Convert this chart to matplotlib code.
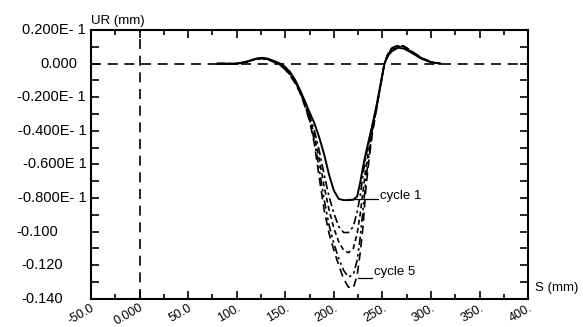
import numpy as np
import matplotlib
matplotlib.use("Agg")
import matplotlib.pyplot as plt
from matplotlib.ticker import MultipleLocator
from matplotlib.transforms import blended_transform_factory

plt.rcParams['font.family'] = ['Liberation Sans', 'DejaVu Sans']

#%% data
S = [80, 100, 110, 120, 126, 132, 140, 145, 150, 155, 160, 165, 170, 175,
     180, 185, 190, 195, 200, 205, 210, 215, 220, 224, 227, 230, 233, 236,
     240, 244, 248, 252, 256, 260, 266, 272, 280, 290, 300, 310]

ur_cycle1 = [0, 0, 0.0012, 0.003, 0.0035, 0.003, 0.0012, 0.0, -0.002, -0.005,
             -0.0095, -0.0155, -0.022, -0.029, -0.0355, -0.044, -0.054, -0.066,
             -0.0755, -0.0805, -0.0812, -0.0812, -0.081, -0.079, -0.071, -0.0615,
             -0.053, -0.0455, -0.0355, -0.0245, -0.0125, 0.0, 0.005, 0.0075,
             0.0095, 0.009, 0.0065, 0.003, 0.0008, 0]
ur_cycle2 = [0, 0, 0.0011, 0.0029, 0.0033, 0.0028, 0.001, -0.0004, -0.0025, -0.0058,
             -0.0102, -0.016, -0.023, -0.031, -0.040, -0.052, -0.066, -0.079,
             -0.089, -0.097, -0.1005, -0.1005, -0.097, -0.088, -0.079, -0.066,
             -0.055, -0.047, -0.036, -0.0255, -0.0128, 0.0, 0.0058, 0.0085,
             0.0102, 0.0098, 0.007, 0.0033, 0.0009, 0]
ur_cycle3 = [0, 0, 0.0011, 0.0028, 0.0032, 0.0027, 0.0008, -0.0007, -0.003, -0.0063,
             -0.0107, -0.0165, -0.024, -0.032, -0.043, -0.057, -0.073, -0.087,
             -0.098, -0.106, -0.111, -0.1125, -0.110, -0.101, -0.090, -0.076,
             -0.062, -0.051, -0.038, -0.026, -0.013, 0.0, 0.006, 0.009,
             0.0105, 0.010, 0.0072, 0.0034, 0.001, 0]
ur_cycle4 = [0, 0, 0.001, 0.0027, 0.0031, 0.0026, 0.0006, -0.001, -0.0033, -0.0067,
             -0.0112, -0.017, -0.0245, -0.033, -0.046, -0.063, -0.081, -0.096,
             -0.107, -0.116, -0.123, -0.127, -0.1255, -0.117, -0.104, -0.087,
             -0.069, -0.055, -0.039, -0.0265, -0.013, 0.0, 0.0063, 0.0093,
             0.0108, 0.0103, 0.0074, 0.0035, 0.001, 0]
ur_cycle5 = [0, 0, 0.001, 0.0027, 0.003, 0.0025, 0.0005, -0.0012, -0.0035, -0.007,
             -0.0115, -0.017, -0.025, -0.034, -0.048, -0.068, -0.087, -0.101,
             -0.111, -0.120, -0.128, -0.133, -0.1335, -0.126, -0.113, -0.097,
             -0.074, -0.058, -0.040, -0.027, -0.013, 0.0, 0.0065, 0.0095,
             0.011, 0.0105, 0.0075, 0.0035, 0.001, 0]

x_ticks = [-50, 0, 50, 100, 150, 200, 250, 300, 350, 400]
x_ticklabels = ['-50.0', '0.000', '50.0', '100.', '150.', '200.', '250.',
                '300.', '350.', '400.']
y_ticks = [0.02, 0.0, -0.02, -0.04, -0.06, -0.08, -0.10, -0.12, -0.14]
y_ticklabels = ['0.200E- 1', '0.000', '-0.200E- 1', '-0.400E- 1', '-0.600E 1',
                '-0.800E- 1', '-0.100', '-0.120', '-0.140']

#%% figure
fig = plt.figure(figsize=(5.83, 3.27), dpi=100)
ax = fig.add_axes([0.156, 0.086, 0.750, 0.822])

ax.axhline(0, color='k', lw=1.2, ls=(0, (6, 4)))
ax.axvline(0, color='k', lw=1.2, ls=(0, (6, 4)))

ax.plot(S, ur_cycle1, color='k', lw=1.4, ls='-')
ax.plot(S, ur_cycle2, color='k', lw=1.2, ls=(0, (5, 2, 1.5, 2)))
ax.plot(S, ur_cycle3, color='k', lw=1.2, ls=(0, (3, 2)))
ax.plot(S, ur_cycle4, color='k', lw=1.2, ls=(0, (5, 2, 1.5, 2, 1.5, 2)))
ax.plot(S, ur_cycle5, color='k', lw=1.2, ls=(0, (5, 3)))

ax.set_xlim(-50, 400)
ax.set_ylim(-0.14, 0.02)

for sp in ax.spines.values():
    sp.set_linewidth(1.5)

ax.xaxis.set_major_locator(MultipleLocator(50))
ax.xaxis.set_minor_locator(MultipleLocator(25))
ax.yaxis.set_major_locator(MultipleLocator(0.01))
ax.tick_params(which='both', direction='in', top=True, right=True, width=1.2)
ax.tick_params(which='major', length=6)
ax.tick_params(which='minor', length=3.5)
ax.set_yticklabels([])
ax.set_xticks(x_ticks)
ax.set_xticklabels(x_ticklabels, rotation=30, ha='right', va='top',
                   rotation_mode='anchor', fontsize=9)
ax.tick_params(axis='x', pad=2)

# y labels, placed by hand like the scan
ytrans = blended_transform_factory(ax.transAxes, ax.transData)
right_px = [86, 77, 86, 87, 87, 87, 58, 63, 63]
for v, lab, px in zip(y_ticks, y_ticklabels, right_px):
    ax.text((px - 91) / 437, v, lab, transform=ytrans, ha='right', va='center',
            fontsize=10.5)

ax.text(0.0, 1.01, 'UR (mm)', transform=ax.transAxes, ha='left', va='bottom',
        fontsize=9.5)
ax.text(1.015, 0.04, 'S (mm)', transform=ax.transAxes, ha='left', va='center',
        fontsize=9.5)

ax.plot([214.6, 245.5], [-0.0806, -0.0806], color='k', lw=0.9)
ax.text(247.5, -0.0788, 'cycle 1', fontsize=9.5, va='center')
ax.plot([225, 239.3], [-0.1275, -0.1275], color='k', lw=0.9)
ax.text(241.4, -0.124, 'cycle 5', fontsize=9.5, va='center')

fig.savefig('out.png', dpi=100)
